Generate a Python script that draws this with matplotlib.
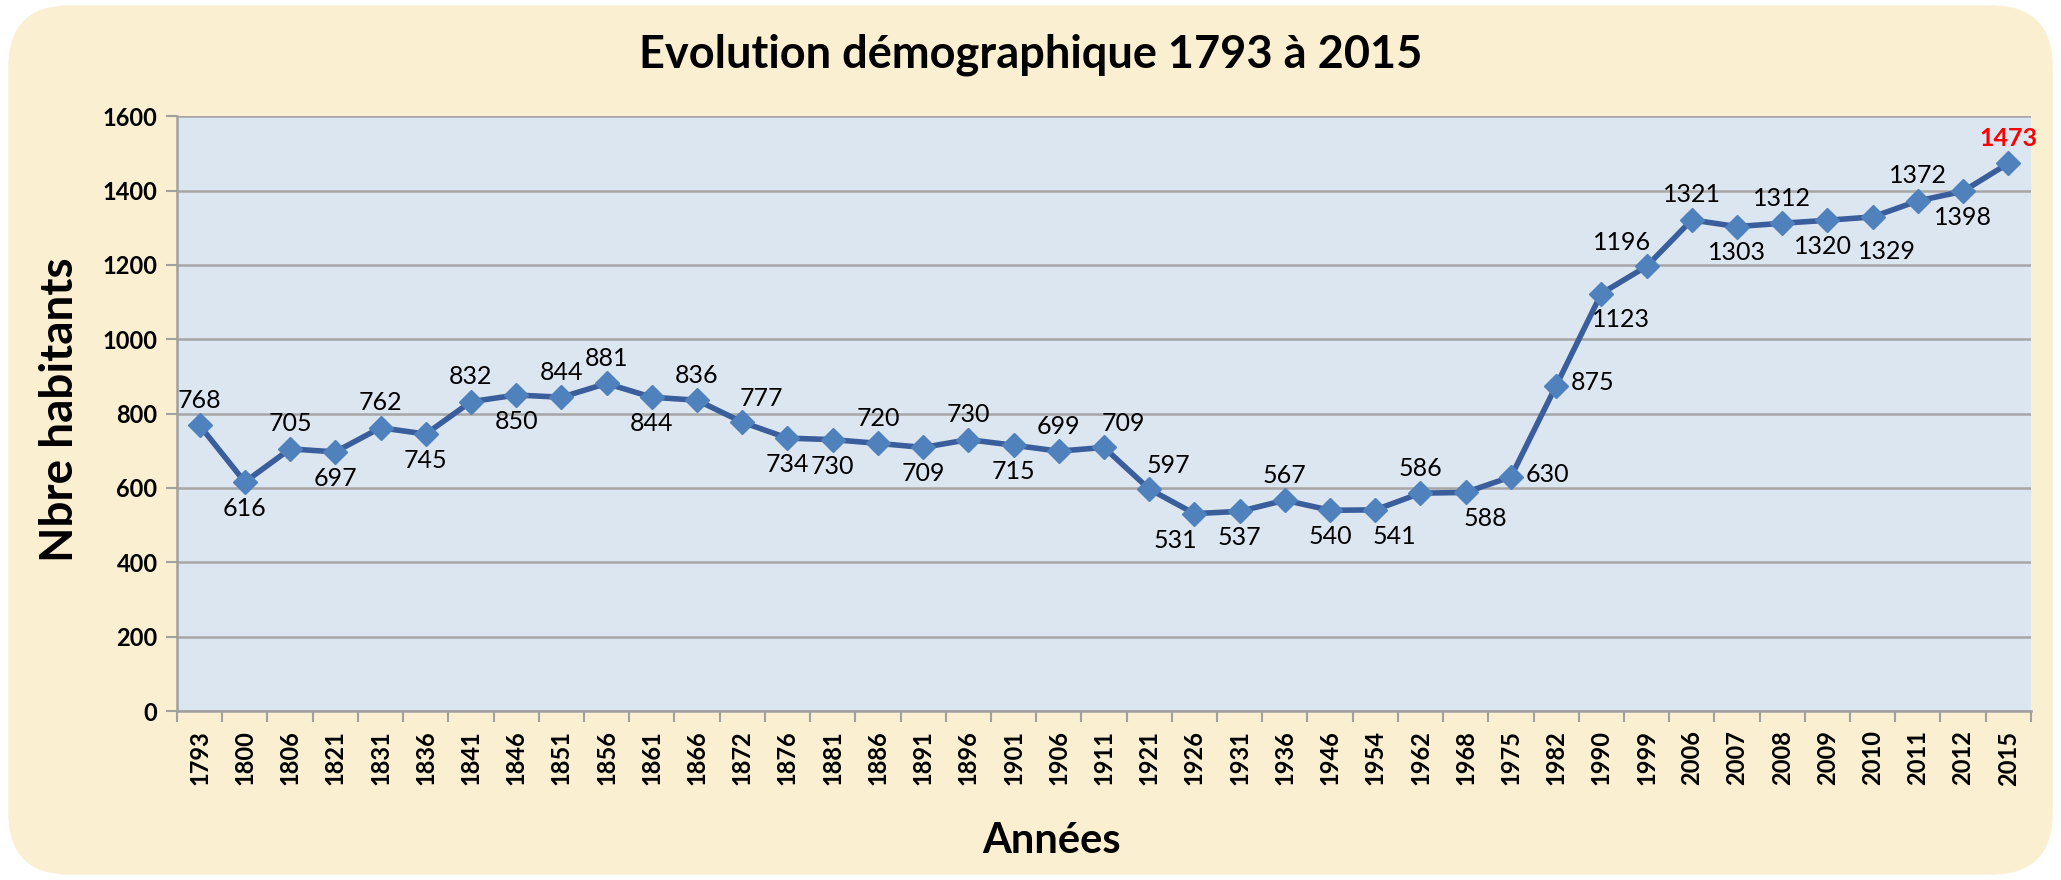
import matplotlib
matplotlib.use("Agg")
import matplotlib.pyplot as plt
from matplotlib.patches import FancyBboxPatch

plt.rcParams['font.family'] = ['Lato', 'DejaVu Sans']

# données
annees = ['1793', '1800', '1806', '1821', '1831', '1836', '1841', '1846', '1851', '1856',
          '1861', '1866', '1872', '1876', '1881', '1886', '1891', '1896', '1901', '1906',
          '1911', '1921', '1926', '1931', '1936', '1946', '1954', '1962', '1968', '1975',
          '1982', '1990', '1999', '2006', '2007', '2008', '2009', '2010', '2011', '2012',
          '2015']
habitants = [768, 616, 705, 697, 762, 745, 832, 850, 844, 881,
             844, 836, 777, 734, 730, 720, 709, 730, 715, 699,
             709, 597, 531, 537, 567, 540, 541, 586, 588, 630,
             875, 1123, 1196, 1321, 1303, 1312, 1320, 1329, 1372, 1398,
             1473]
# placement des étiquettes (a=dessus, b=dessous, ...)
places = ['a', 'b', 'a', 'b', 'a', 'b', 'a', 'b', 'a', 'a',
          'b', 'a', 'ar', 'b', 'b', 'a', 'b', 'a', 'b', 'a',
          'ar', 'ar', 'bl', 'b', 'a', 'b', 'br', 'a', 'br', 'r',
          'r', 'br', 'al', 'a', 'b', 'a', 'bg', 'bd', 'a', 'b',
          'a']
decal = {'a': (0, 18), 'b': (0, -19), 'ar': (14, 17), 'bl': (-14, -19),
         'br': (14, -19), 'r': (26, 2), 'al': (-18, 17),
         'bg': (-3, -19), 'bd': (10, -25)}

fig = plt.figure(figsize=(20.61, 8.8), dpi=100)
fig.patch.set_facecolor('white')
fond = FancyBboxPatch((0.004, 0.006), 0.992, 0.988, boxstyle="round,pad=0,rounding_size=0.03",
                      transform=fig.transFigure, facecolor='#FBEFD2', edgecolor='none',
                      mutation_aspect=2061 / 880, zorder=-10)
fig.patches.append(fond)

ax = fig.add_axes([0.0859, 0.192, 0.8995, 0.676])
ax.set_facecolor('#DCE6F1')
x = list(range(len(annees)))
ax.plot(x, habitants, color='#3A5D9C', lw=4, marker='D', markersize=12.5,
        markerfacecolor='#4F81BD', markeredgecolor='#4F81BD', zorder=3)

for i, (v, p) in enumerate(zip(habitants, places)):
    dx, dy = decal[p]
    if i == len(habitants) - 1:
        ax.annotate(str(v), (i, v), xytext=(dx, dy), textcoords='offset points',
                    ha='center', va='center', fontsize=18, color='red', fontweight='bold')
    else:
        ax.annotate(str(v), (i, v), xytext=(dx, dy), textcoords='offset points',
                    ha='center', va='center', fontsize=18, color='black')

ax.set_xlim(-0.5, len(annees) - 0.5)
ax.set_ylim(0, 1600)
ax.set_yticks(range(0, 1601, 200))
ax.set_yticklabels([str(t) for t in range(0, 1601, 200)], fontsize=17, fontweight='bold')
ax.set_xticks(x)
ax.set_xticklabels(annees, rotation=90, fontsize=17, fontweight='bold')
ax.set_xticks([i - 0.5 for i in range(len(annees) + 1)], minor=True)
ax.tick_params(axis='x', which='major', length=0, pad=14)
ax.tick_params(axis='x', which='minor', length=8, color='#A0A0A0', width=1.5)
ax.tick_params(axis='y', length=8, color='#A0A0A0', width=1.5, pad=6)
ax.grid(axis='y', color='#A6A6A6', lw=1.8)
ax.set_axisbelow(True)
for s in ['top', 'right']:
    ax.spines[s].set_visible(False)
for s in ['left', 'bottom']:
    ax.spines[s].set_color('#A0A0A0')
    ax.spines[s].set_linewidth(1.8)

fig.text(0.5, 0.938, 'Evolution démographique 1793 à 2015', ha='center', va='center',
         fontsize=32.5, fontweight='bold')
fig.text(0.51, 0.044, 'Années', ha='center', va='center', fontsize=30, fontweight='bold')
fig.text(0.029, 0.535, 'Nbre habitants', ha='center', va='center', rotation=90,
         fontsize=33, fontweight='bold')

fig.savefig('out.png', dpi=100, facecolor=fig.get_facecolor())
